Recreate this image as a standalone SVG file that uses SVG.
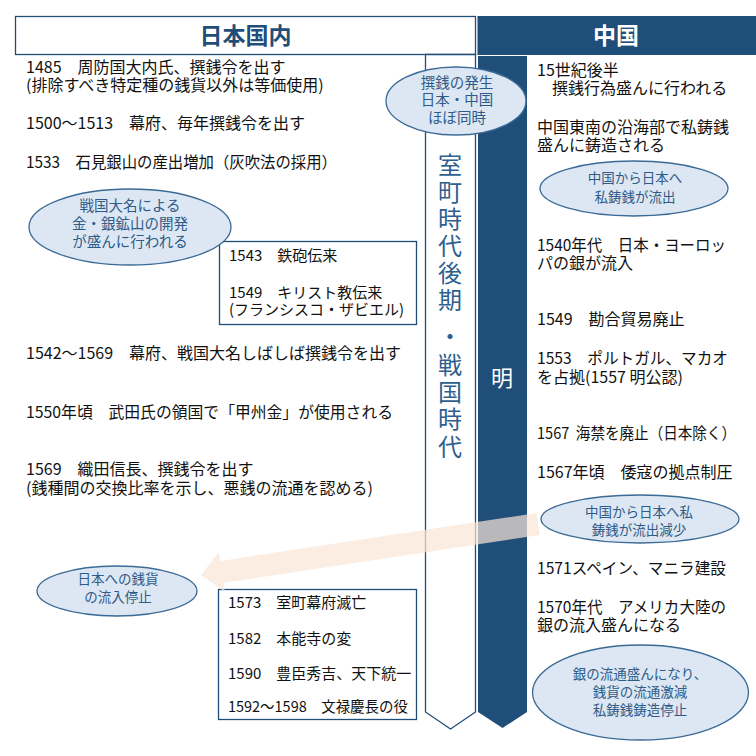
<svg xmlns="http://www.w3.org/2000/svg" width="756" height="756" viewBox="0 0 756 756">
<style>
.t{font-family:"Noto Sans CJK JP","Noto Sans",sans-serif;font-size:16px;fill:#111}
.s{font-size:15px}
.e{fill:#dce7f3;stroke:#3b6a96;stroke-width:1.3}
.et{font-family:"Noto Sans CJK JP","Noto Sans",sans-serif;font-size:13.5px;fill:#2f5b88;text-anchor:middle}
.big{font-size:14.5px}
.box{fill:#fff;stroke:#1f4e79;stroke-width:1.3}
.v{font-family:"Noto Sans CJK JP","Noto Sans",sans-serif;font-size:24px;fill:#2e5f8e;text-anchor:middle}
.h{font-family:"Noto Sans CJK JP","Noto Sans",sans-serif;font-size:23px;font-weight:bold;text-anchor:middle}
</style>
<rect width="756" height="756" fill="#fff"/>
<g id="header-japan">
<rect x="15.5" y="16.5" width="460" height="38" class="box"/>
<text x="245.5" y="44" class="h" fill="#1f4e79">日本国内</text>
</g>
<g id="header-china">
<rect x="477.5" y="16" width="279" height="39" fill="#1f4e79"/>
<text x="616" y="44" class="h" fill="#fff">中国</text>
</g>
<g id="period-japan">
<polygon points="425.5,54.5 475.5,54.5 475.5,712 450.5,729 425.5,712" class="box"/>
<text class="v" x="450"><tspan x="450" y="174">室</tspan><tspan x="450" y="201">町</tspan><tspan x="450" y="228">時</tspan><tspan x="450" y="255">代</tspan><tspan x="450" y="282">後</tspan><tspan x="450" y="309">期</tspan><tspan x="450" y="345">・</tspan><tspan x="450" y="374">戦</tspan><tspan x="450" y="401">国</tspan><tspan x="450" y="428">時</tspan><tspan x="450" y="456">代</tspan></text>
</g>
<g id="period-china">
<polygon points="478,56 527,56 527,712 502.5,728 478,712" fill="#1f4e79"/>
<text x="502" y="386" font-family="Noto Sans CJK JP, sans-serif" font-size="22" fill="#fff" text-anchor="middle">明</text>
</g>
<g id="japan-events">
<text class="t" x="26" y="73">1485　周防国大内氏、撰銭令を出す</text>
<text class="t" x="26" y="91">(排除すべき特定種の銭貨以外は等価使用)</text>
<text class="t" x="26" y="129">1500〜1513　幕府、毎年撰銭令を出す</text>
<text class="t" x="26" y="168" textLength="311" lengthAdjust="spacingAndGlyphs">1533　石見銀山の産出増加（灰吹法の採用）</text>
<text class="t" x="26" y="359">1542〜1569　幕府、戦国大名しばしば撰銭令を出す</text>
<text class="t" x="26" y="418" textLength="367" lengthAdjust="spacingAndGlyphs">1550年頃　武田氏の領国で「甲州金」が使用される</text>
<text class="t" x="26" y="475">1569　織田信長、撰銭令を出す</text>
<text class="t" x="26" y="494">(銭種間の交換比率を示し、悪銭の流通を認める)</text>
</g>
<g id="china-events">
<text class="t" x="537" y="76">15世紀後半</text>
<text class="t" x="552" y="94">撰銭行為盛んに行われる</text>
<text class="t" x="537" y="132.5">中国東南の沿海部で私鋳銭</text>
<text class="t" x="537" y="151">盛んに鋳造される</text>
<text class="t" x="537" y="251" textLength="189" lengthAdjust="spacingAndGlyphs">1540年代　日本・ヨーロッ</text>
<text class="t" x="537" y="269">パの銀が流入</text>
<text class="t" x="537" y="325">1549　勘合貿易廃止</text>
<text class="t" x="537" y="364" textLength="191" lengthAdjust="spacingAndGlyphs">1553　ポルトガル、マカオ</text>
<text class="t" x="537" y="383">を占拠(1557 明公認)</text>
<text class="t" x="537" y="439" textLength="199" lengthAdjust="spacingAndGlyphs">1567&#160;&#160;海禁を廃止（日本除く）</text>
<text class="t" x="537" y="478">1567年頃　倭寇の拠点制圧</text>
<text class="t" x="537" y="574" textLength="189" lengthAdjust="spacingAndGlyphs">1571スペイン、マニラ建設</text>
<text class="t" x="537" y="613" textLength="189" lengthAdjust="spacingAndGlyphs">1570年代　アメリカ大陸の</text>
<text class="t" x="537" y="631">銀の流入盛んになる</text>
</g>
<g id="box-1543">
<rect x="219.5" y="241.5" width="197" height="83" class="box"/>
<text class="t s" x="229" y="261">1543　鉄砲伝来</text>
<text class="t s" x="229" y="298">1549　キリスト教伝来</text>
<text class="t s" x="229" y="315">(フランシスコ・ザビエル)</text>
</g>
<g id="box-1573">
<rect x="218.5" y="589.5" width="198" height="130" class="box"/>
<text class="t s" x="228" y="608">1573　室町幕府滅亡</text>
<text class="t s" x="228" y="644">1582　本能寺の変</text>
<text class="t s" x="228" y="679">1590　豊臣秀吉、天下統一</text>
<text class="t s" x="228" y="712" textLength="180" lengthAdjust="spacingAndGlyphs">1592〜1598　文禄慶長の役</text>
</g>
<g id="connectors">
<polygon points="201,575 218.8,552.1 220.1,561 536.4,513.1 539.7,534.9 223.5,582.8 224.8,591.7" fill="#fbe5d6" opacity="0.7"/>
</g>
<g id="note-erizeni">
<ellipse cx="456" cy="101" rx="70" ry="34" class="e"/>
<text class="et big" x="457" y="88">撰銭の発生</text>
<text class="et big" x="457" y="105">日本・中国</text>
<text class="et big" x="457" y="123">ほぼ同時</text>
</g>
<g id="note-sengoku">
<ellipse cx="130" cy="227" rx="101" ry="38" class="e"/>
<text class="et big" x="130" y="211">戦国大名による</text>
<text class="et big" x="130" y="229">金・銀鉱山の開発</text>
<text class="et big" x="130" y="247">が盛んに行われる</text>
</g>
<g id="note-outflow">
<ellipse cx="634" cy="188.5" rx="94" ry="27.5" class="e"/>
<text class="et" x="635" y="183">中国から日本へ</text>
<text class="et" x="635" y="202">私鋳銭が流出</text>
</g>
<g id="note-decrease">
<ellipse cx="640" cy="519" rx="99" ry="24" class="e"/>
<text class="et" x="639" y="517">中国から日本へ私</text>
<text class="et" x="639" y="535">鋳銭が流出減少</text>
</g>
<g id="note-stop">
<ellipse cx="117" cy="591" rx="80" ry="25" class="e"/>
<text class="et" x="118" y="584">日本への銭貨</text>
<text class="et" x="118" y="602">の流入停止</text>
</g>
<g id="note-silver">
<ellipse cx="640.5" cy="692.5" rx="108" ry="47.5" class="e"/>
<text class="et" x="640" y="679">銀の流通盛んになり、</text>
<text class="et" x="640" y="697">銭貨の流通激減</text>
<text class="et" x="640" y="715">私鋳銭鋳造停止</text>
</g>
</svg>
